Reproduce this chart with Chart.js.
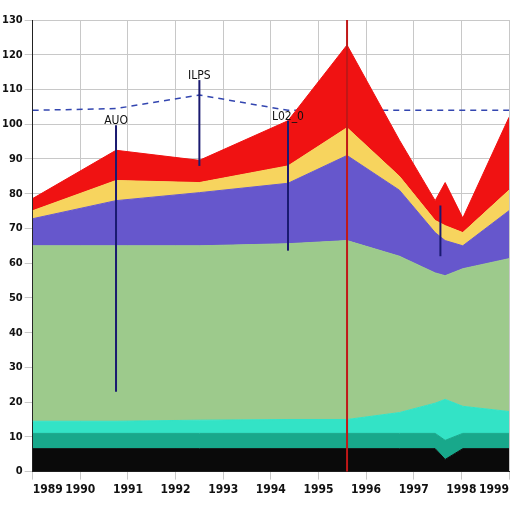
<!DOCTYPE html>
<html>
<head>
<meta charset="utf-8">
<script src="https://cdn.jsdelivr.net/npm/chart.js@4/dist/chart.umd.min.js"></script>
<style>
  html, body { margin: 0; padding: 0; background: #fff; }
  #wrap { width: 512px; height: 512px; }
</style>
</head>
<body>
<div id="wrap"><canvas id="chart"></canvas></div>
<script>
// x positions of the samples
var xs = [0, 17.5, 35, 53.6, 66, 77, 84.5, 86.6, 90.3, 100];
// stacked layer thicknesses, bottom to top
var black  = [6.6, 6.6, 6.6, 6.6, 6.6, 6.6, 6.6, 3.5, 6.6, 6.6];
var teal   = [4.4, 4.4, 4.4, 4.4, 4.4, 4.4, 4.4, 5.5, 4.4, 4.4];
var cyan   = [3.5, 3.5, 3.8, 4, 4, 6, 8.7, 11.8, 7.8, 6.3];
var green  = [50.5, 50.5, 50.2, 50.6, 51.5, 45, 37.5, 35.6, 39.6, 44];
var purple = [7.8, 13, 15.3, 17.4, 24.5, 19, 11.6, 10.1, 6.6, 13.8];
var yellow = [2.3, 5.8, 2.9, 5, 8, 4, 3.5, 4.3, 3.8, 5.9];
var red    = [3.5, 8.7, 6.4, 13, 23.8, 10.4, 5.7, 12.4, 4.2, 21];
// dashed reference line
var lineX = [0, 17.5, 35, 53.6, 66, 100];
var lineY = [104, 104.5, 108.4, 104, 104, 104];
// vertical spikes with labels
var spikeX = [17.5, 35, 53.6, 66, 85.6];
var spikeLow = [23, 88, 63.6, 0, 62];
var spikeHigh = [99.7, 112.7, 101, 130, 76.6];
var spikeLabels = ['AUO', 'ILPS', 'L02_0', '', ''];
var xLabels = ['1989', '1990', '1991', '1992', '1993', '1994', '1995', '1996', '1997', '1998', '1999'];

function pts(vals, xv) {
    return vals.map((v, i) => ({x: (xv || xs)[i], y: v}));
}

function layer(label, vals, color, first) {
    return {
        label: label,
        data: pts(vals),
        backgroundColor: color,
        borderColor: color,
        borderWidth: 1,
        pointRadius: 0,
        fill: first ? 'origin' : '-1',
        tension: 0,
        stack: 'area'
    };
}

var spikePlugin = {
    id: 'spikes',
    afterDatasetsDraw: function(chart) {
        var ctx = chart.ctx;
        var xScale = chart.scales.x;
        var yScale = chart.scales.y;
        ctx.save();
        spikeX.forEach(function(x, i) {
            var px = xScale.getPixelForValue(x);
            ctx.strokeStyle = i === 3 ? '#c01818' : '#1a1a70';
            ctx.lineWidth = 2;
            ctx.beginPath();
            ctx.moveTo(px, yScale.getPixelForValue(spikeLow[i]));
            ctx.lineTo(px, yScale.getPixelForValue(spikeHigh[i]));
            ctx.stroke();
            if (spikeLabels[i]) {
                ctx.fillStyle = '#111';
                ctx.font = '12px "DejaVu Sans Condensed"';
                ctx.textAlign = 'center';
                ctx.textBaseline = 'bottom';
                ctx.fillText(spikeLabels[i], px, yScale.getPixelForValue(spikeHigh[i]) + 2);
            }
        });
        ctx.restore();
    }
};

new Chart(document.getElementById('chart'), {
    type: 'line',
    data: {
        datasets: [
            layer('Black', black, '#0a0a0a', true),
            layer('Teal', teal, '#18a88b'),
            layer('Cyan', cyan, '#33e3c6'),
            layer('Green', green, '#9dca8c'),
            layer('Purple', purple, '#6657cc'),
            layer('Yellow', yellow, '#f7d45e'),
            layer('Red', red, '#f01212'),
            {
                label: 'Level',
                data: pts(lineY, lineX),
                borderColor: '#3346b0',
                borderWidth: 1.5,
                borderDash: [6, 5],
                pointRadius: 0,
                fill: false,
                stack: 'line'
            }
        ]
    },
    options: {
        responsive: true,
        maintainAspectRatio: false,
        animation: false,
        layout: { padding: { top: 20, right: 0, left: 0, bottom: 12 } },
        plugins: { legend: { display: false }, tooltip: { enabled: false } },
        scales: {
            x: {
                type: 'linear',
                min: 0,
                max: 100,
                ticks: {
                    stepSize: 10,
                    align: 'inner',
                    color: '#111',
                    font: { size: 12, family: '"DejaVu Sans Condensed"', weight: 'bold' },
                    maxRotation: 0,
                    callback: function(v) { return xLabels[Math.round(v / 10)]; }
                },
                grid: { color: '#c8c8c8' },
                border: { color: '#222' }
            },
            y: {
                stacked: true,
                min: 0,
                max: 130,
                ticks: {
                    stepSize: 10,
                    color: '#111',
                    padding: 2,
                    font: { size: 11, family: '"DejaVu Sans Condensed"', weight: 'bold' }
                },
                grid: { color: '#c8c8c8' },
                border: { color: '#222' }
            }
        }
    },
    plugins: [spikePlugin]
});
</script>
</body>
</html>
